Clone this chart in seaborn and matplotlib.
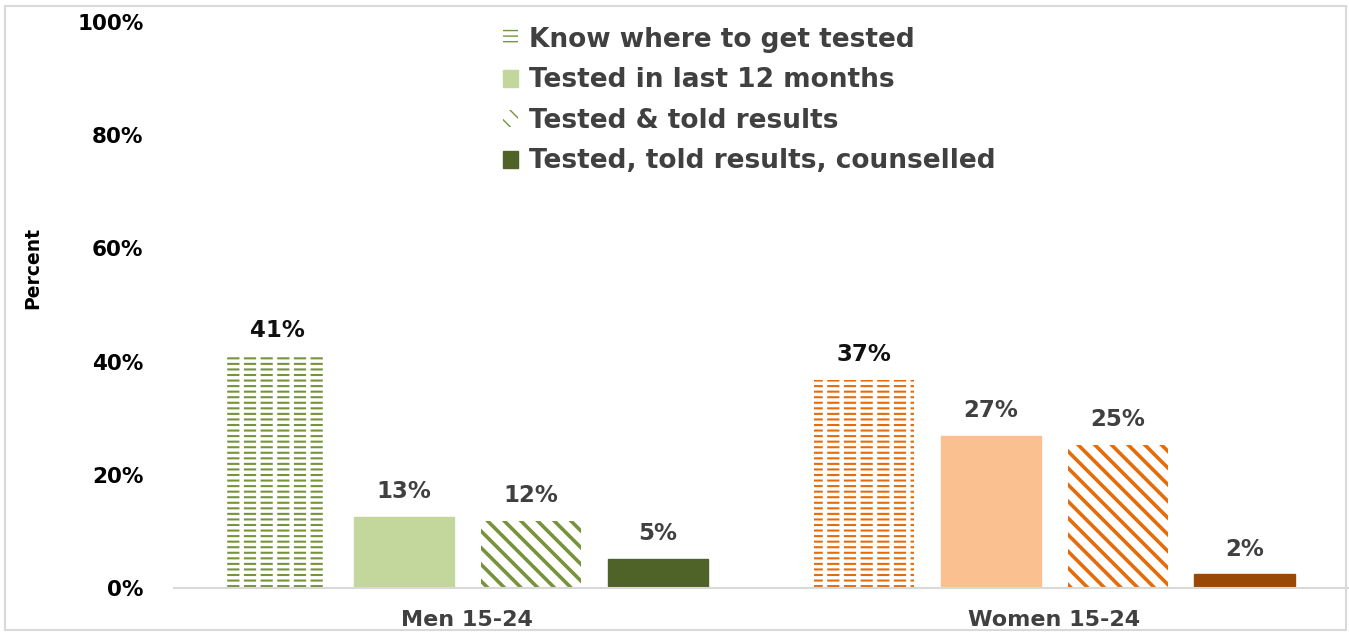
import numpy as np
import pandas as pd
import seaborn as sns
import matplotlib.pyplot as plt
from matplotlib.patches import Patch, Rectangle

groups = ["Men 15-24", "Women 15-24"]
indicators = ["Know where to get tested", "Tested in last 12 months",
              "Tested & told results", "Tested, told results, counselled"]
men_vals = [41.0, 12.6, 11.8, 5.1]
women_vals = [36.7, 26.8, 25.3, 2.4]
y_ticks = [0, 20, 40, 60, 80, 100]

men_colors = ["#77933C", "#C3D69B", "#77933C", "#4F6228"]
women_colors = ["#E46C0A", "#FAC090", "#E46C0A", "#984807"]
hatches = ["---", None, "\\\\", None]

df = pd.DataFrame({
    "group": np.repeat(groups, len(indicators)),
    "indicator": indicators * len(groups),
    "value": men_vals + women_vals,
})

sns.set_style("white")
plt.rcParams["font.family"] = ["DejaVu Sans"]

fig = plt.figure(figsize=(13.49, 6.36), dpi=100)
ax = fig.add_axes([0.129, 0.0755, 0.87, 0.89])

sns.barplot(data=df, x="group", y="value", hue="indicator", order=groups,
            hue_order=indicators, width=0.865, gap=0.21, ax=ax,
            legend=False, errorbar=None)

for i, cont in enumerate(ax.containers):
    for j, bar in enumerate(cont):
        col = [men_colors, women_colors][j][i]
        if hatches[i]:
            bar.set_facecolor("white")
            bar.set_edgecolor(col)
            bar.set_linewidth(0)
            bar.set_hatch(hatches[i])
            if hasattr(bar, "set_hatch_linewidth"):
                bar.set_hatch_linewidth(1.5 if i == 0 else 2.6)
            if i == 0:
                # break the horizontal lines into dashes
                cover = Rectangle(bar.get_xy(), bar.get_width(), bar.get_height(),
                                  facecolor="none", edgecolor="white", linewidth=0,
                                  hatch="|", zorder=bar.get_zorder() + 0.1)
                if hasattr(cover, "set_hatch_linewidth"):
                    cover.set_hatch_linewidth(3.2)
                ax.add_patch(cover)
        else:
            bar.set_facecolor(col)
            bar.set_edgecolor(col)
    ax.bar_label(cont, labels=[f"{v:.0f}%" for v in cont.datavalues],
                 padding=10, fontsize=16.5, fontweight="bold",
                 color="#111111" if i == 0 else "#404040")

ax.set_ylim(0, 100)
ax.set_xlim(-0.5, 1.5)
ax.set_yticks(y_ticks)
ax.set_yticklabels([f"{t}%" for t in y_ticks], fontsize=15.5, fontweight="bold",
                   color="black")
ax.tick_params(axis="y", length=0, pad=22)
ax.tick_params(axis="x", length=0, pad=16, labelsize=16, labelcolor="#404040")
for lab in ax.get_xticklabels():
    lab.set_fontweight("bold")
ax.set_xlabel("")
ax.set_ylabel("Percent", fontsize=13.5, fontweight="bold", color="black")
ax.yaxis.set_label_coords(-0.112, 0.565)

for s in ["top", "right", "left"]:
    ax.spines[s].set_visible(False)
ax.spines["bottom"].set_color("#D9D9D9")
ax.spines["bottom"].set_linewidth(1.5)

handles = []
for i, name in enumerate(indicators):
    if hatches[i]:
        handles.append(Patch(facecolor="white", edgecolor=men_colors[i],
                             linewidth=0, hatch=hatches[i], label=name))
    else:
        handles.append(Patch(facecolor=men_colors[i], edgecolor=men_colors[i],
                             label=name))
leg = fig.legend(handles=handles, loc="upper left", bbox_to_anchor=(0.355, 0.995),
                 frameon=False, handlelength=0.6, handleheight=0.6,
                 handletextpad=0.4, labelspacing=0.55,
                 prop={"size": 19, "weight": "bold"})
for t in leg.get_texts():
    t.set_color("#404040")

fig.patches.append(Rectangle((0.004, 0.01), 0.994, 0.98, transform=fig.transFigure,
                             facecolor="none", edgecolor="#D9D9D9", linewidth=1.5))

fig.savefig("out.png", dpi=100)
